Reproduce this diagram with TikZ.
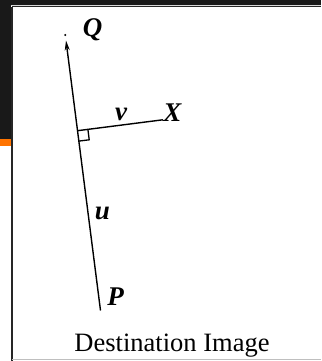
\documentclass[tikz,border=0pt]{standalone}
\usepackage{fontspec}
\setmainfont{Liberation Serif}
\usetikzlibrary{arrows.meta}
\begin{document}
\begin{tikzpicture}[x=1pt,y=-1pt,
  lbl/.style={inner sep=0pt,anchor=base,font=\fontsize{27}{30}\selectfont\bfseries\itshape},
  ln/.style={line width=1.4pt,black},
  caption/.style={inner sep=0pt,anchor=base,font=\fontsize{26.5}{30}\selectfont}]
\useasboundingbox (0,0) rectangle (321,361);
% screenshot background
\fill[white] (0,0) rectangle (321,361);
\fill[black!90] (0,0) rectangle (321,5);
\fill[black!90] (0,0) rectangle (11,139);
\fill[orange!85!red!95!yellow] (0,139) rectangle (11,146);
\draw[black!15,line width=1pt] (11,5.3) -- (321,5.3);
\draw[black!85,line width=1.6pt] (12.2,6.6) -- (321,6.6);
\draw[black!85,line width=2pt] (12.2,6.6) -- (12.2,361);
\draw[black!25,line width=1pt] (12.2,359.5) -- (321,359.5);
% geometry
\coordinate (P) at (100.5,310.5);
\coordinate (Q) at (66,40.5);
\coordinate (F) at (77.5,130.7);
\coordinate (X) at (162.8,119.8);
\coordinate (D) at (65.3,35);
\fill (D) circle (1.1);
\draw[ln,-{Stealth[length=10pt,width=5pt]}] (P) -- (Q);
\draw[ln] (F) -- (X);
\draw[line width=1.3pt] (87.9,129.4) -- (89.2,139.8) -- (78.9,141.1);
% labels
\node[lbl] (lQ) at (92.5,36.5) {Q};
\node[lbl] (lX) at (172.5,121) {X};
\node[lbl] (lv) at (121,120) {v};
\node[lbl] (lu) at (102.5,219.5) {u};
\node[lbl] (lP) at (115.5,305) {P};
\node[caption] (cap) at (172,351.5) {Destination Image};
\end{tikzpicture}
\end{document}
